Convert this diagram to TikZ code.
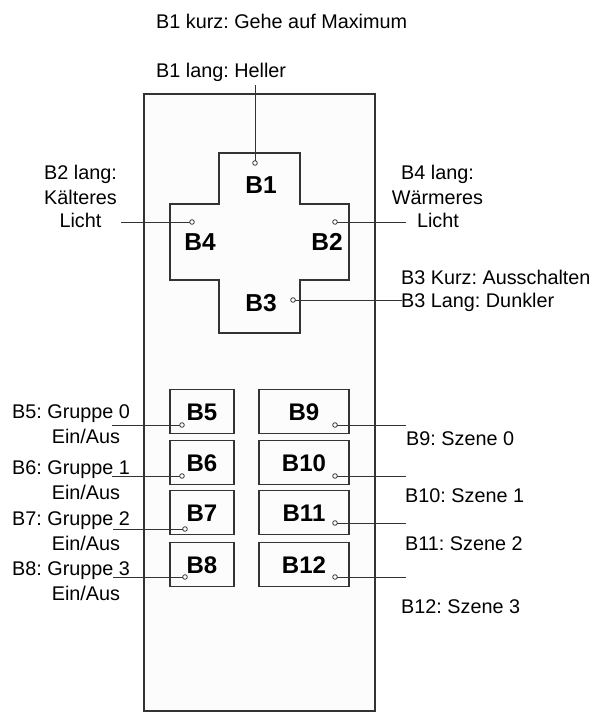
\documentclass[tikz,border=0pt]{standalone}
\usepackage{fontspec}
\setmainfont{Liberation Sans}
\frenchspacing
\begin{document}
\begin{tikzpicture}[x=1pt,y=-1pt,
  frame/.style={draw=black!80, line width=1.8pt},
  btn/.style={draw=black!80, line width=1.6pt, rectangle, minimum height=44pt, inner sep=0pt,
     font=\fontsize{24}{28}\selectfont\bfseries, text height=17.2pt, text depth=0pt},
  lbtn/.style={btn, minimum width=64pt},
  rbtn/.style={btn, minimum width=90pt},
  crosslbl/.style={inner sep=0pt, font=\fontsize{24.5}{28}\selectfont\bfseries, text height=17.5pt, text depth=0pt},
  txt/.style={inner sep=0pt, font=\fontsize{19.8}{23}\selectfont, text height=14.2pt, text depth=0pt},
  conn/.style={draw=black!80, line width=0.9pt},
  dot/.style={draw=black!80, line width=0.8pt, fill=white},
]
\useasboundingbox (0,0) rectangle (597,713);
% panel
\draw[frame, fill=black!1] (144,94) rectangle (375,711);
% cross
\draw[frame] (219,153) -- (300,153) -- (300,204) -- (349,204) -- (349,280) -- (300,280)
  -- (300,333) -- (219,333) -- (219,280) -- (170,280) -- (170,204) -- (219,204) -- cycle;
\node[crosslbl] (kB1) at (261,185) {B1};
\node[crosslbl] (kB4) at (200,242) {B4};
\node[crosslbl] (kB2) at (327,242) {B2};
\node[crosslbl] (kB3) at (261,303) {B3};
% buttons
\node[lbtn] (B5) at (202,411.5) {B5};
\node[lbtn] (B6) at (202,462.5) {B6};
\node[lbtn] (B7) at (202,512.5) {B7};
\node[lbtn] (B8) at (202,564.5) {B8};
\node[rbtn] (B9) at (304,411.5) {B9};
\node[rbtn] (B10) at (304,462.5) {B10};
\node[rbtn] (B11) at (304,512.5) {B11};
\node[rbtn] (B12) at (304,564.5) {B12};
% texts
\node[txt, anchor=west] (t1k) at (156,21) {B1 kurz: Gehe auf Maximum};
\node[txt, anchor=west] (t1l) at (156,70) {B1 lang: Heller};
\node[txt] (t2a) at (80.5,172) {B2 lang:};
\node[txt] (t2b) at (80.5,197) {Kälteres};
\node[txt] (t2c) at (80.5,220) {Licht};
\node[txt] (t4a) at (437.5,172) {B4 lang:};
\node[txt] (t4b) at (437.5,197) {Wärmeres};
\node[txt] (t4c) at (438,220) {Licht};
\node[txt, anchor=west] (t3a) at (401,277) {B3 Kurz: Ausschalten};
\node[txt, anchor=west] (t3b) at (401,300) {B3 Lang: Dunkler};
\node[txt, anchor=west] (t5a) at (12,411) {B5: Gruppe 0};
\node[txt] (t5b) at (86,436) {Ein/Aus};
\node[txt, anchor=west] (t6a) at (12,467) {B6: Gruppe 1};
\node[txt] (t6b) at (86,492) {Ein/Aus};
\node[txt, anchor=west] (t7a) at (12,518) {B7: Gruppe 2};
\node[txt] (t7b) at (86,543) {Ein/Aus};
\node[txt, anchor=west] (t8a) at (12,568) {B8: Gruppe 3};
\node[txt] (t8b) at (86,593) {Ein/Aus};
\node[txt, anchor=west] (t9) at (406,438) {B9: Szene 0};
\node[txt, anchor=west] (t10) at (405,495) {B10: Szene 1};
\node[txt, anchor=west] (t11) at (405,543) {B11: Szene 2};
\node[txt, anchor=west] (t12) at (401,606) {B12: Szene 3};
% connector points
\coordinate (c1) at (255,163); \coordinate (e1) at (255,85);
\coordinate (c4) at (192,222); \coordinate (e4) at (121,222);
\coordinate (c2) at (335,222); \coordinate (e2) at (406,222);
\coordinate (c3) at (293,300); \coordinate (e3) at (402,300);
\coordinate (c5) at (182,425); \coordinate (e5) at (112,425);
\coordinate (c6) at (182,476); \coordinate (e6) at (112,476);
\coordinate (c7) at (185,529); \coordinate (e7) at (113,529);
\coordinate (c8) at (185,577); \coordinate (e8) at (113,577);
\coordinate (c9) at (335,425); \coordinate (e9) at (406,425);
\coordinate (c10) at (335,476); \coordinate (e10) at (406,476);
\coordinate (c11) at (335,523); \coordinate (e11) at (406,523);
\coordinate (c12) at (335,577); \coordinate (e12) at (406,577);
\foreach \i in {1,...,12} {
  \draw[conn] (c\i) -- (e\i);
  \draw[dot] (c\i) circle (2.3pt);
}
\end{tikzpicture}
\end{document}
